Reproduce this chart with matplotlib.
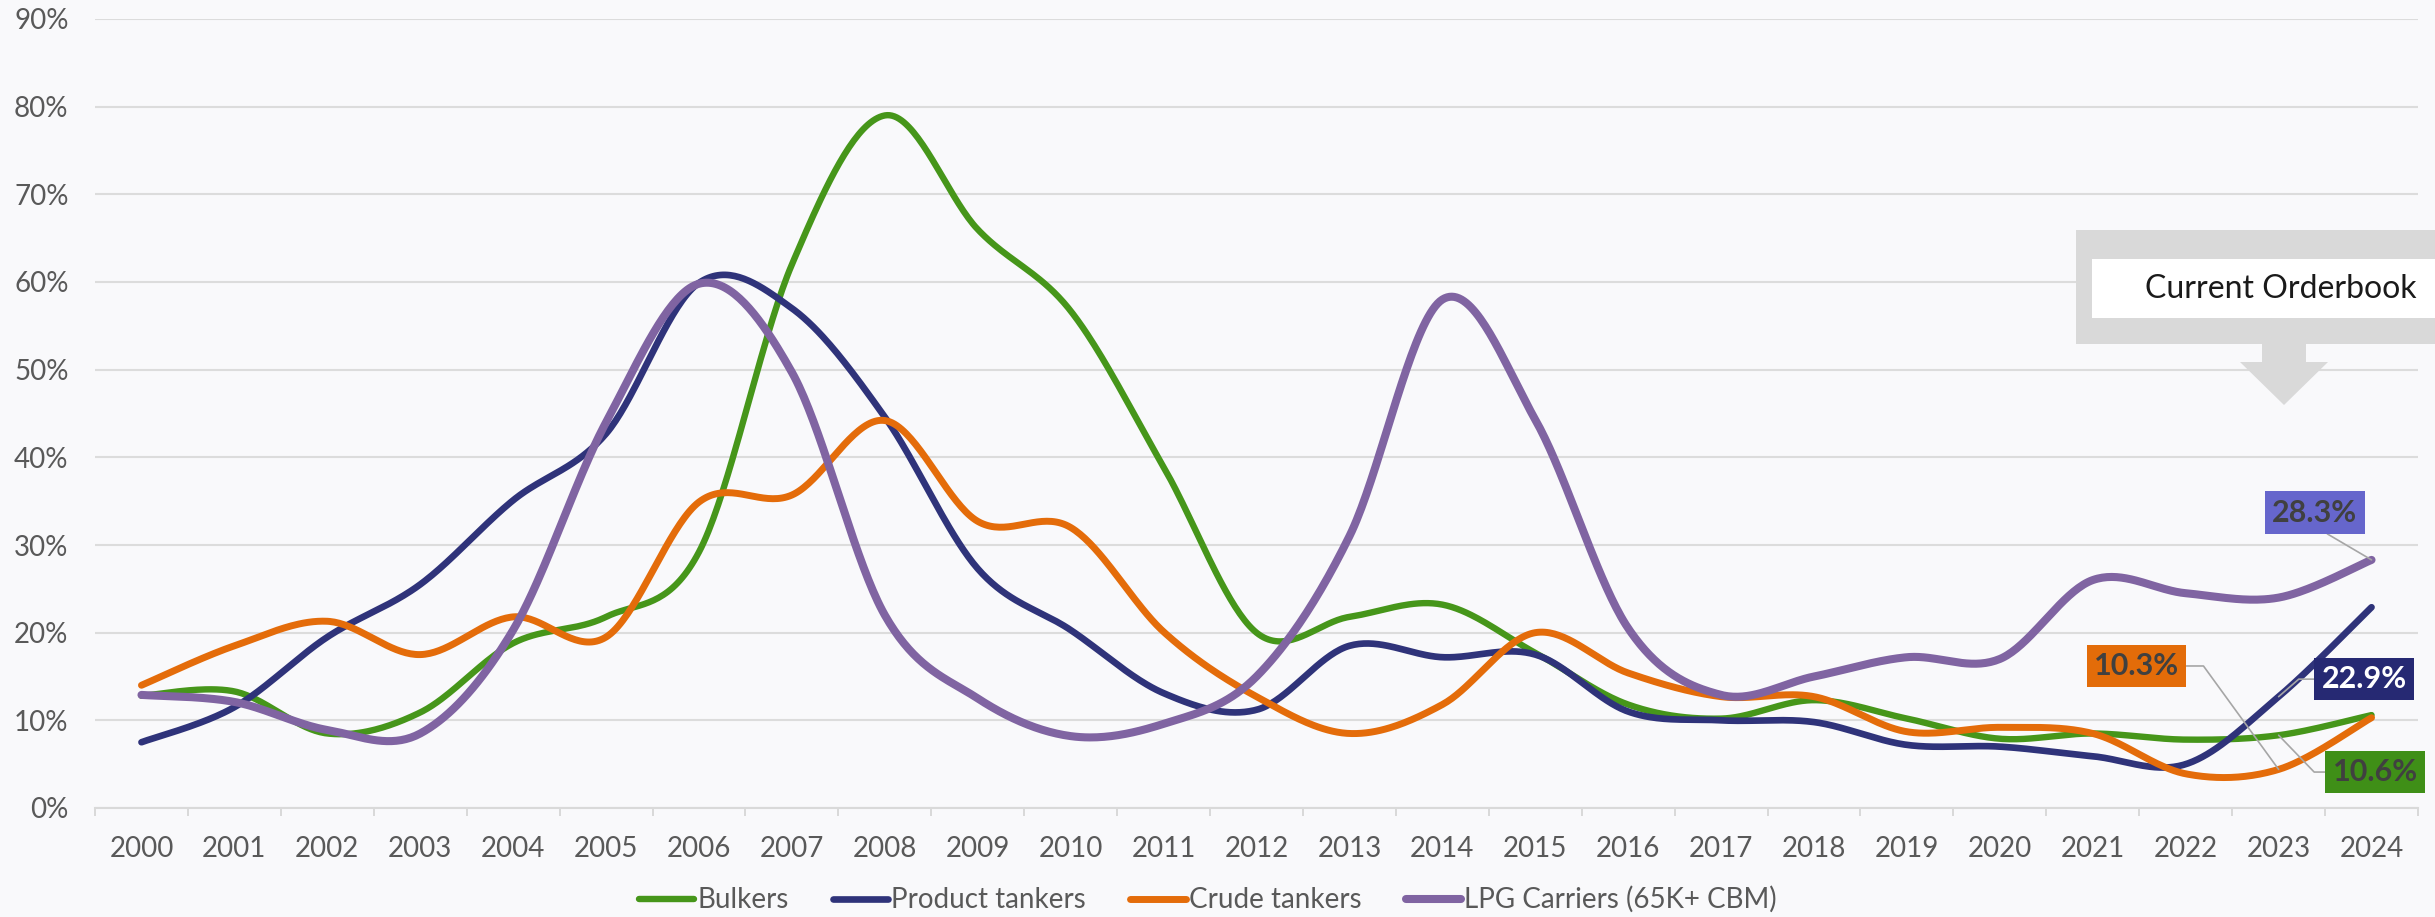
import matplotlib
matplotlib.use('Agg')
import matplotlib.pyplot as plt
from matplotlib.patches import Rectangle, Polygon
import numpy as np

plt.rcParams['font.family'] = ['Lato', 'DejaVu Sans']

# Data (share of fleet on order, %)
years = list(range(2000, 2025))
bulkers = [12.8, 13.3, 8.5, 10.9, 18.8, 21.8, 29.2, 62.0, 79.0, 66.0, 56.7, 38.9,
           20.0, 21.8, 23.2, 17.7, 11.8, 10.2, 12.3, 10.2, 7.9, 8.5, 7.8, 8.3, 10.6]
product = [7.5, 11.5, 19.5, 25.5, 35.1, 42.7, 59.9, 57.0, 44.6, 27.3, 20.3, 13.1,
           11.2, 18.5, 17.2, 17.5, 11.0, 10.0, 9.8, 7.2, 7.0, 5.9, 5.0, 12.7, 22.9]
crude = [14.0, 18.5, 21.3, 17.5, 21.8, 19.5, 34.9, 35.7, 44.2, 32.7, 32.0, 20.1,
         12.7, 8.5, 11.8, 20.0, 15.4, 12.7, 12.7, 8.7, 9.2, 8.5, 3.9, 4.4, 10.3]
lpg = [12.9, 12.1, 8.9, 8.5, 20.3, 44.0, 59.8, 49.7, 22.0, 12.5, 8.2, 9.6,
       15.0, 31.0, 58.0, 44.3, 20.5, 12.9, 15.0, 17.2, 17.0, 26.0, 24.5, 24.0, 28.3]

series_names = ['Bulkers', 'Product tankers', 'Crude tankers', 'LPG Carriers (65K+ CBM)']
series_vals = [bulkers, product, crude, lpg]
colors = ['#46961A', '#2F337A', '#E46C0A', '#8064A2']
widths = [4.6, 4.8, 5.0, 5.8]

# last-value labels: text, box colour, text colour
end_labels = ['10.6%', '22.9%', '10.3%', '28.3%']
label_box = ['#3F8F17', '#262973', '#E36C09', '#6666CC']
label_txt = ['#404040', 'white', '#404040', '#404040']


def smooth(x, y, n=40):
    # Excel-style smoothed line (cubic bezier, catmull-rom control points)
    x = np.asarray(x, float)
    y = np.asarray(y, float)
    px = np.concatenate([[x[0]], x, [x[-1]]])
    py = np.concatenate([[y[0]], y, [y[-1]]])
    t = np.linspace(0, 1, n)
    ox, oy = [], []
    for i in range(1, len(px) - 2):
        p0 = np.array([px[i], py[i]])
        p3 = np.array([px[i + 1], py[i + 1]])
        c1 = p0 + (p3 - np.array([px[i - 1], py[i - 1]])) / 6
        c2 = p3 - (np.array([px[i + 2], py[i + 2]]) - p0) / 6
        b = ((1 - t) ** 3)[:, None] * p0 + (3 * (1 - t) ** 2 * t)[:, None] * c1 \
            + (3 * (1 - t) * t ** 2)[:, None] * c2 + (t ** 3)[:, None] * p3
        ox.extend(b[:, 0])
        oy.extend(b[:, 1])
    return ox, oy


W, H = 2435, 917
bg = '#F9F9FB'
fig = plt.figure(figsize=(W / 100, H / 100), dpi=100, facecolor=bg)
ax = fig.add_axes([95 / W, 1 - 808 / H, (2418 - 95) / W, (808 - 19) / H], facecolor=bg)

for name, vals, c, lw in zip(series_names, series_vals, colors, widths):
    sx, sy = smooth(years, vals)
    ax.plot(sx, sy, color=c, lw=lw, label=name, solid_capstyle='round')

ax.set_xlim(years[0] - 0.5, years[-1] + 0.5)
ax.set_ylim(0, 90)
ax.set_yticks(range(0, 91, 10))
ax.set_yticklabels([f'{v}%' for v in range(0, 91, 10)])
ax.set_xticks(years)
ax.set_xticklabels([str(y) for y in years])
ax.set_xticks([y - 0.5 for y in years] + [years[-1] + 0.5], minor=True)
ax.tick_params(axis='x', which='major', length=0, pad=20, labelsize=20, labelcolor='#595959')
ax.tick_params(axis='x', which='minor', length=6, width=1.4, color='#D9D9D9', direction='out')
ax.tick_params(axis='y', length=0, pad=19, labelsize=20, labelcolor='#595959')
ax.grid(axis='y', color='#DCDCDC', lw=1.5)
ax.set_axisbelow(True)
for s in ['left', 'right', 'top']:
    ax.spines[s].set_visible(False)
ax.spines['bottom'].set_color('#D9D9D9')
ax.spines['bottom'].set_linewidth(1.5)

# value labels with leader lines
# (text position, index of point the leader goes to, connection style)
label_pos = [(2024.04, 4.1), (2023.92, 14.7), (2021.47, 16.2), (2023.39, 33.7)]
label_pt = [23, 23, 23, 24]
label_conn = ['angle,angleA=0,angleB=-46,rad=0', 'angle,angleA=0,angleB=41,rad=0',
              'angle,angleA=0,angleB=-54,rad=0', 'arc3,rad=0']
label_rel = [(0, 0.5), (0, 0.5), (1, 0.5), (0.5, 0)]
for i in range(4):
    vals = series_vals[i]
    j = label_pt[i]
    ax.annotate(end_labels[i], xy=(years[j], vals[j]), xytext=label_pos[i],
                ha='center', va='center', fontsize=22, fontweight='bold',
                color=label_txt[i], annotation_clip=False,
                bbox=dict(boxstyle='square,pad=0.24', fc=label_box[i], ec='none'),
                arrowprops=dict(arrowstyle='-', color='#A6A6A6', lw=1.2,
                                connectionstyle=label_conn[i], relpos=label_rel[i],
                                shrinkA=0, shrinkB=0))


# "Current Orderbook" call-out (figure pixel coordinates)
def fp(px, py):
    return px / W, 1 - py / H


tf = fig.transFigure
x0, y0 = fp(2076, 344)
fig.add_artist(Rectangle((x0, y0), (2440 - 2076) / W, (344 - 230) / H,
                         transform=tf, fc='#D9D9D9', ec='none'))
x0, y0 = fp(2092, 317.5)
fig.add_artist(Rectangle((x0, y0), (2440 - 2092) / W, (317.5 - 259) / H,
                         transform=tf, fc='white', ec='none'))
arrow = [fp(2262, 343), fp(2306, 343), fp(2306, 362), fp(2328, 362),
         fp(2284, 405), fp(2240, 362), fp(2262, 362)]
fig.add_artist(Polygon(arrow, closed=True, transform=tf, fc='#D9D9D9', ec='none'))
fig.text(2145 / W, 1 - 289 / H, 'Current Orderbook', fontsize=23, color='#1A1A1A',
         ha='left', va='center')

fig.legend(loc='lower center', bbox_to_anchor=(0.496, -0.008), ncol=4, frameon=False,
           fontsize=20, labelcolor='#595959', handlelength=2.0, handletextpad=0.1,
           columnspacing=1.6, borderaxespad=0)

fig.savefig('out.png', dpi=100, facecolor=bg)
